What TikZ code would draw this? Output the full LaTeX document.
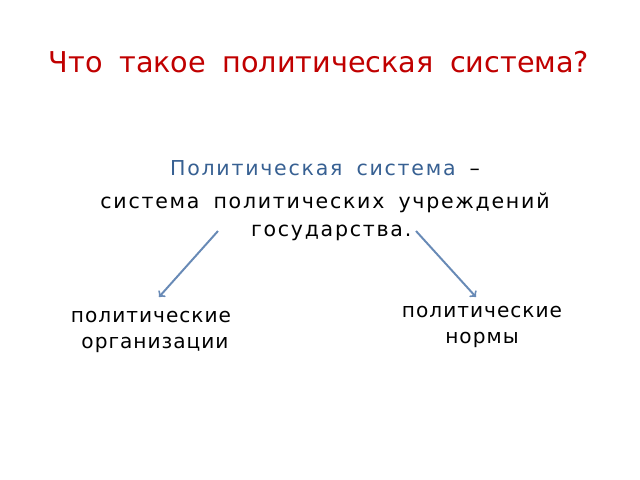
\documentclass[tikz,border=0pt]{standalone}
\usepackage{fontspec}
\setmainfont{DejaVu Sans}[WordSpace={1.8}]
\newfontfamily\deffont{DejaVu Sans}[WordSpace={1.7},LetterSpace=8.5]
\newfontfamily\lblfont{DejaVu Sans}[WordSpace={1.6},LetterSpace=5]
\usepackage{xcolor}
\usetikzlibrary{arrows,positioning}
\definecolor{titlered}{RGB}{192,0,0}
\definecolor{defblue}{RGB}{55,96,146}
\definecolor{arrowblue}{RGB}{104,138,182}

\begin{document}
\begin{tikzpicture}[x=0.025cm,y=-0.025cm]
      \useasboundingbox (0,0) rectangle (640,480);
      \begin{scope}[>=to,
        txt/.style={align=center,inner sep=0pt},
        arr/.style={->,draw=arrowblue,line width=1.4pt}]

        \node[txt,text=titlered,font=\fontsize{20.4}{24}\selectfont] (title) at (319,62) {Что такое политическая система?};
        \node[txt,font=\deffont\fontsize{14.6}{20}\selectfont] (def) at (325,201)
          {\textcolor{defblue}{Политическая система} –\\[3.5pt]система политических учреждений\\\hspace*{0.6em}государства.};
        \node[txt,font=\lblfont\fontsize{14.3}{18.5}\selectfont] (org) at (151,332) {политические\\\hspace*{0.4em}организации};
        \node[txt,font=\lblfont\fontsize{14.3}{18.5}\selectfont] (norm) at (482,327) {политические\\нормы};
        % arrow ends
        \coordinate (lstart) at (218,231);
        \coordinate (lend) at (159,297);
        \coordinate (rstart) at (416,231);
        \coordinate (rend) at (476,297);
        \draw[arr] (lstart) -- (lend);
        \draw[arr] (rstart) -- (rend);
      \end{scope}
\end{tikzpicture}
\end{document}
